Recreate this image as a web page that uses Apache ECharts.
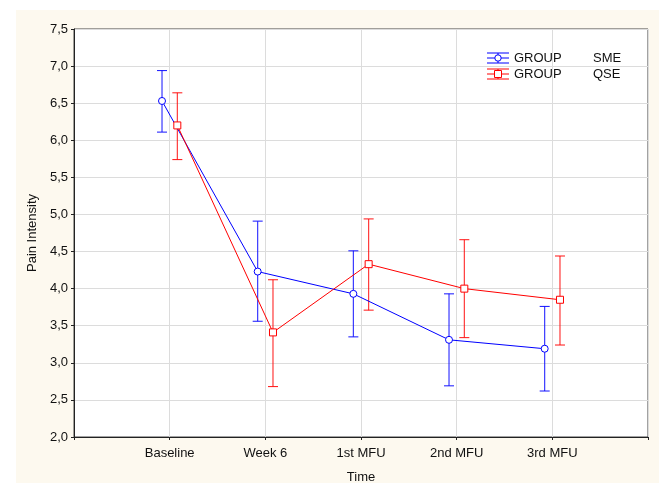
<!DOCTYPE html>
<html><head><meta charset="utf-8">
<script src="https://cdn.jsdelivr.net/npm/echarts@6/dist/echarts.min.js"></script>
<style>html,body{margin:0;padding:0;background:#fff;}#c{width:659px;height:483px;}</style>
</head><body><div id="c"></div>
<script>
const categories = ['Baseline', 'Week 6', '1st MFU', '2nd MFU', '3rd MFU'];
const smeMean = [6.53, 4.23, 3.93, 3.31, 3.19];
const smeLow  = [6.11, 3.56, 3.35, 2.69, 2.62];
const smeHigh = [6.94, 4.91, 4.51, 3.93, 3.76];
const qseMean = [6.20, 3.41, 4.33, 4.00, 3.85];
const qseLow  = [5.74, 2.68, 3.71, 3.34, 3.24];
const qseHigh = [6.64, 4.12, 4.94, 4.66, 4.44];
const yTicks = [2.0, 2.5, 3.0, 3.5, 4.0, 4.5, 5.0, 5.5, 6.0, 6.5, 7.0, 7.5];
const groupNames = ['SME', 'QSE'];

const OFF = 0.08;
const BLUE = '#0000ff', RED = '#ff0000';
const FONT = "'Liberation Sans', Arial, Helvetica, sans-serif";
const FS = 13;

function lineData(mean, off){ return mean.map((v,i)=>[i+1+off, v]); }
function errData(lo, hi, off){ return lo.map((v,i)=>[i+1+off, v, hi[i]]); }

function errSeries(lo, hi, off, color){
  return {
    type:'custom', z:3, silent:true,
    data: errData(lo, hi, off),
    renderItem: function(params, api){
      const x = api.value(0);
      const p1 = api.coord([x, api.value(1)]);
      const p2 = api.coord([x, api.value(2)]);
      const w = 5;
      const st = {stroke: color, lineWidth: 1.1, opacity:0.85};
      return {type:'group', children:[
        {type:'line', shape:{x1:p1[0], y1:p1[1], x2:p2[0], y2:p2[1]}, style:st},
        {type:'line', shape:{x1:p1[0]-w, y1:p1[1], x2:p1[0]+w, y2:p1[1]}, style:st},
        {type:'line', shape:{x1:p2[0]-w, y1:p2[1], x2:p2[0]+w, y2:p2[1]}, style:st}
      ]};
    }
  };
}

function legendItem(y, color, symbol, name){
  const cx = 498;
  const st = {stroke: color, lineWidth: 1, fill: null};
  const ch = [
    {type:'line', shape:{x1:487, y1:y-5, x2:509, y2:y-5}, style:st},
    {type:'line', shape:{x1:487, y1:y, x2:509, y2:y}, style:st},
    {type:'line', shape:{x1:487, y1:y+5, x2:509, y2:y+5}, style:st},
    {type:'line', shape:{x1:cx, y1:y-5, x2:cx, y2:y+5}, style:st}
  ];
  if (symbol === 'circle') ch.push({type:'circle', shape:{cx:cx, cy:y, r:3.2}, style:{stroke:color, fill:'#fff', lineWidth:1}});
  else ch.push({type:'rect', shape:{x:cx-3.5, y:y-3.5, width:7, height:7}, style:{stroke:color, fill:'#fff', lineWidth:1}});
  ch.push({type:'text', x:514, y:y, style:{text:'GROUP', fill:'#111', font:FS+'px '+FONT, textVerticalAlign:'middle'}});
  ch.push({type:'text', x:593, y:y, style:{text:name, fill:'#111', font:FS+'px '+FONT, textVerticalAlign:'middle'}});
  return {type:'group', children: ch, z:20};
}

const chart = echarts.init(document.getElementById('c'), null, {renderer:'canvas'});
chart.setOption({
  animation:false,
  backgroundColor:'transparent',
  textStyle:{fontFamily:FONT},
  graphic:[
    {type:'rect', shape:{x:16, y:10, width:643, height:473}, style:{fill:'#fdf9ef'}, z:-100, silent:true},
    legendItem(58, BLUE, 'circle', groupNames[0]),
    legendItem(74, RED, 'rect', groupNames[1])
  ],
  grid:{left:74, right:11, top:29, bottom:46, containLabel:false, outerBoundsMode:'none',
    show:true, backgroundColor:'#ffffff', borderColor:'#444', borderWidth:1},
  xAxis:{
    type:'value', min:0, max:6, interval:1,
    name:'Time', nameLocation:'middle', nameGap:34,
    nameTextStyle:{color:'#111', fontSize:FS, fontFamily:FONT},
    axisLine:{show:true, lineStyle:{color:'#222'}},
    axisTick:{show:true, length:3, lineStyle:{color:'#222'}},
    axisLabel:{color:'#111', fontSize:FS, margin:10, fontFamily:FONT,
      formatter: v => (v>=1 && v<=5) ? categories[v-1] : ''},
    splitLine:{show:true, lineStyle:{color:'#dcdcdc', width:1}}
  },
  yAxis:{
    type:'value', min:2, max:7.5, interval:0.5,
    name:'Pain Intensity', nameLocation:'middle', nameGap:30, nameRotate:90,
    nameTextStyle:{color:'#111', fontSize:FS, fontFamily:FONT},
    axisLine:{show:true, lineStyle:{color:'#222'}},
    axisTick:{show:true, length:3, lineStyle:{color:'#222'}},
    axisLabel:{color:'#111', fontSize:FS, margin:6, fontFamily:FONT,
      formatter: v => { const t = yTicks.find(k => Math.abs(k-v)<1e-6); return (t!==undefined? t: v).toFixed(1).replace('.', ','); }},
    splitLine:{show:true, lineStyle:{color:'#dcdcdc', width:1}}
  },
  series:[
    errSeries(smeLow, smeHigh, -OFF, BLUE),
    errSeries(qseLow, qseHigh, OFF, RED),
    {type:'line', name:groupNames[0], data: lineData(smeMean, -OFF), z:5,
      symbol:'circle', symbolSize:7, showAllSymbol:true,
      lineStyle:{color:BLUE, width:1}, itemStyle:{color:'#fff', borderColor:BLUE, borderWidth:1}},
    {type:'line', name:groupNames[1], data: lineData(qseMean, OFF), z:5,
      symbol:'rect', symbolSize:7, showAllSymbol:true,
      lineStyle:{color:RED, width:1}, itemStyle:{color:'#fff', borderColor:RED, borderWidth:1}}
  ]
});
</script></body></html>
